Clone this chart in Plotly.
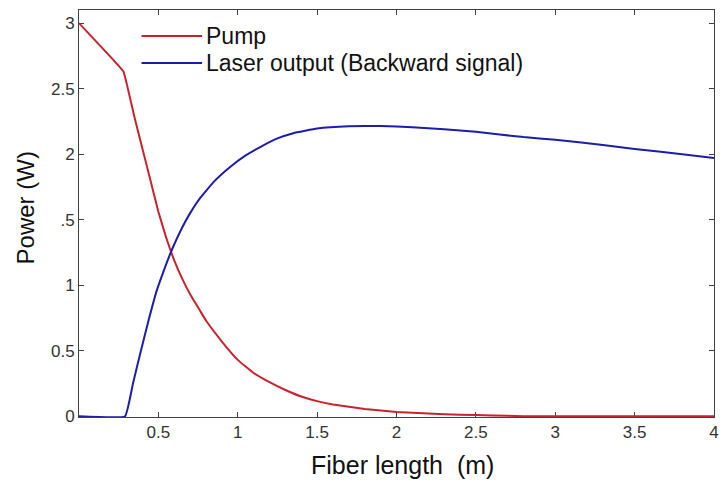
import plotly.graph_objects as go

# Pump power along fiber (W)
pump_x = [0.0, 0.1, 0.2, 0.28, 0.3, 0.35, 0.4, 0.45, 0.5, 0.55, 0.6, 0.65, 0.7, 0.76, 0.8, 0.9, 1.0, 1.1, 1.2, 1.3, 1.4, 1.5, 1.6, 1.8, 2.0, 2.2, 2.4, 2.6, 2.8, 3.0, 3.5, 4.0]
pump_y = [3.0, 2.87, 2.74, 2.63, 2.54, 2.28, 2.04, 1.80, 1.56, 1.36, 1.19, 1.05, 0.93, 0.81, 0.73, 0.57, 0.43, 0.33, 0.26, 0.2, 0.15, 0.115, 0.09, 0.055, 0.032, 0.02, 0.012, 0.006, 0.0, 0.0, 0.0, 0.0]

# Laser output (backward signal) along fiber (W)
laser_x = [0.0, 0.29, 0.34, 0.39, 0.44, 0.49, 0.54, 0.58, 0.65, 0.7, 0.76, 0.85, 0.95, 1.05, 1.15, 1.25, 1.35, 1.5, 1.7, 1.9, 2.1, 2.3, 2.5, 2.8, 3.0, 3.3, 3.5, 3.8, 4.0]
laser_y = [0.0, 0.0, 0.25, 0.5, 0.74, 0.96, 1.13, 1.255, 1.44, 1.55, 1.66, 1.79, 1.9, 1.99, 2.06, 2.12, 2.16, 2.195, 2.212, 2.215, 2.205, 2.19, 2.17, 2.13, 2.11, 2.07, 2.04, 2.0, 1.97]

x_ticks = [0.5, 1, 1.5, 2, 2.5, 3, 3.5, 4]
x_ticktext = ["0.5", "1", "1.5", "2", "2.5", "3", "3.5", "4"]
y_ticks = [0, 0.5, 1, 1.5, 2, 2.5, 3]
y_ticktext = ["0", "0.5", "1", ".5", "2", "2.5", "3"]

series_names = ["Pump", "Laser output (Backward signal)"]
series_colors = ["#c8232c", "#1d1daa"]

FONT = "Liberation Sans, Arial, sans-serif"

fig = go.Figure()
fig.add_trace(go.Scatter(x=pump_x, y=pump_y, mode="lines", name=series_names[0], cliponaxis=False,
                         line=dict(color=series_colors[0], width=2, shape="spline", smoothing=0.3)))
fig.add_trace(go.Scatter(x=laser_x, y=laser_y, mode="lines", name=series_names[1], cliponaxis=False,
                         line=dict(color=series_colors[1], width=2, shape="spline", smoothing=0.3)))

axis_common = dict(showline=True, linecolor="#404040", linewidth=1, mirror="ticks",
                   ticks="inside", ticklen=5, tickcolor="#404040", showgrid=False,
                   zeroline=False, layer="below traces",
                   tickfont=dict(family=FONT, size=17, color="#333333"))

fig.update_xaxes(range=[0, 4], tickvals=x_ticks, ticktext=x_ticktext, **axis_common)
fig.update_yaxes(range=[-0.006, 3.1], tickvals=y_ticks, ticktext=y_ticktext, **axis_common)

# Manual legend (line samples + labels)
legend_rows = [36, 63]
for i, name in enumerate(series_names):
    yy = 1 - (legend_rows[i] - 10) / 407
    fig.add_shape(type="line", xref="paper", yref="paper",
                  x0=(142 - 79) / 640, x1=(203 - 79) / 640, y0=yy, y1=yy,
                  line=dict(color=series_colors[i], width=2))
    fig.add_annotation(text=name, xref="paper", yref="paper",
                       x=(205 - 79) / 640, y=yy,
                       xanchor="left", yanchor="middle", showarrow=False,
                       font=dict(family=FONT, size=23, color="#111111"))

fig.add_annotation(text="Fiber length  (m)", xref="paper", yref="paper",
                   x=(405 - 79) / 640, y=-(465 - 417) / 407, xanchor="center", yanchor="middle",
                   showarrow=False, font=dict(family=FONT, size=25, color="#111111"))
fig.add_annotation(text="Power (W)", xref="paper", yref="paper",
                   x=-(79 - 25) / 640, y=1 - (208 - 10) / 407, xanchor="center", yanchor="middle",
                   textangle=-90, showarrow=False, font=dict(family=FONT, size=24, color="#111111"))

fig.update_layout(width=724, height=490, margin=dict(l=79, r=5, t=10, b=73),
                  paper_bgcolor="white", plot_bgcolor="white", showlegend=False)

fig.write_html("out.html")
